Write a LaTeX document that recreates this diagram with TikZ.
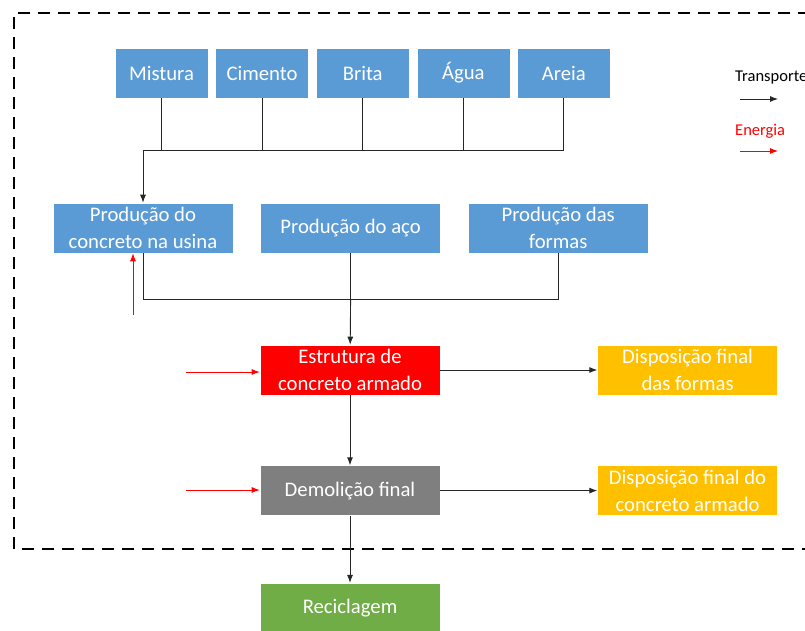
\documentclass[tikz,border=0pt]{standalone}
\usepackage{fontspec}
\setmainfont{Carlito}
\usetikzlibrary{positioning, arrows.meta}

\definecolor{azul}{HTML}{5B9BD5}
\definecolor{vermelho}{HTML}{FF0000}
\definecolor{cinza}{HTML}{7F7F7F}
\definecolor{laranja}{HTML}{FFC000}
\definecolor{verde}{HTML}{70AD47}

\tikzstyle{caixa} = [rectangle, minimum width=180pt, minimum height=50pt, align=center, text=white, draw=white, line width=0.6pt, font=\fontsize{20.7}{27}\selectfont]
\tikzstyle{material} = [caixa, minimum width=93pt, fill=azul]
\tikzstyle{producao} = [caixa, fill=azul]
\tikzstyle{estrutura} = [caixa, fill=vermelho]
\tikzstyle{demolicao} = [caixa, fill=cinza]
\tikzstyle{disposicao} = [caixa, fill=laranja]
\tikzstyle{reciclagem} = [caixa, fill=verde]
\tikzstyle{line} = [line width=0.9pt, black!85]
\tikzstyle{arrow} = [line, -{Latex[length=8pt,width=6pt]}]
\tikzstyle{energia} = [line width=0.9pt, vermelho, -{Latex[length=8pt,width=6pt]}]
\tikzstyle{legenda} = [anchor=west, inner sep=0pt, font=\fontsize{16.5}{20}\selectfont]

\begin{document}
\begin{tikzpicture}[x=1pt, y=-1pt]
\useasboundingbox (0,0) rectangle (805,631);

% limite do sistema
\draw [line width=2.6pt, dash pattern=on 12pt off 8pt] (830,13) -- (14,13) -- (14,549) -- (830,549);

\node (material1) [material] at (161.5,73) {Mistura};
\node (material2) [material, right=7pt of material1] {Cimento};
\node (material3) [material, right=7pt of material2] {Brita};
\node (material4) [material, right=7pt of material3] {Água};
\node (material5) [material, right=7pt of material4] {Areia};

\node (prod1) [producao] at (143,228) {Produção do\\concreto na usina};
\node (prod2) [producao, right=27pt of prod1] {Produção do aço};
\node (prod3) [producao, right=27pt of prod2] {Produção das\\formas};

\node (estrutura) [estrutura] at (350,370) {Estrutura de\\concreto armado};
\node (disp1) [disposicao, right=157pt of estrutura] {Disposição final\\das formas};
\node (demolicao) [demolicao, below=70pt of estrutura] {Demolição final};
\node (disp2) [disposicao, right=157pt of demolicao] {Disposição final do\\concreto armado};
\node (reciclagem) [reciclagem, below=67pt of demolicao] {Reciclagem};

% legenda
\node (transporte) [legenda] at (735,78) {Transporte};
\node (energia) [legenda, text=vermelho] at (735,131) {Energia};
\coordinate (lt1) at (740,99);
\coordinate (lt2) at (778,99);
\coordinate (le1) at (740,151);
\coordinate (le2) at (778,151);
\draw [arrow] (lt1) -- (lt2);
\draw [energia] (le1) -- (le2);

% barramentos
\coordinate (bus1) at (0,150);
\coordinate (bus2) at (0,299);

\draw [line] (material1) -- (material1 |- bus1);
\draw [line] (material2) -- (material2 |- bus1);
\draw [line] (material3) -- (material3 |- bus1);
\draw [line] (material4) -- (material4 |- bus1);
\draw [line] (material5) -- (material5 |- bus1);
\draw [line] (prod1 |- bus1) -- (material5 |- bus1);
\draw [arrow] (prod1 |- bus1) -- (prod1);

\draw [line] (prod1) -- (prod1 |- bus2) -- (prod3 |- bus2) -- (prod3);
\draw [line] (prod2) -- (prod2 |- bus2);
\draw [arrow] (prod2 |- bus2) -- (estrutura);

\draw [arrow] (estrutura) -- (disp1);
\draw [arrow] (estrutura) -- (demolicao);
\draw [arrow] (demolicao) -- (disp2);
\draw [arrow] (demolicao) -- (reciclagem);

% entradas de energia
\coordinate (e1) at (133,315);
\coordinate (e2) at (186,372);
\coordinate (e3) at (186,490);
\draw [energia] (e1) -- (e1 |- prod1.south);
\draw [energia] (e2) -- (e2 -| estrutura.west);
\draw [energia] (e3) -- (e3 -| demolicao.west);

\end{tikzpicture}
\end{document}
